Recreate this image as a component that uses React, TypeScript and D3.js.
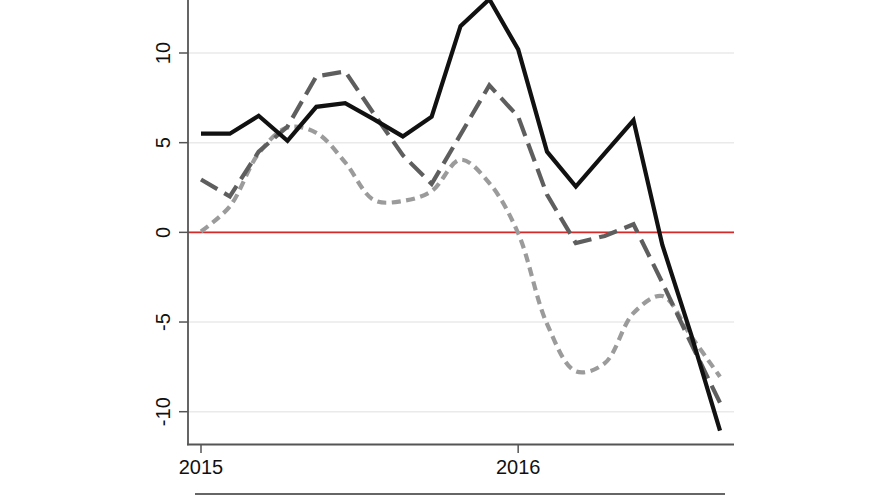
import React from "react";
import * as d3 from "d3";

const periods: number[] = Array.from({ length: 19 }, (_, i) => i);
const seriesA: number[] = [5.5, 5.5, 6.5, 5.1, 7.0, 7.2, 6.3, 5.35, 6.45, 11.5, 13.0, 10.2, 4.5, 2.55, 4.4, 6.25, -0.7, -5.7, -11.05];
const seriesB: number[] = [2.95, 2.0, 4.5, 5.9, 8.7, 8.97, 6.6, 4.3, 2.7, 5.45, 8.2, 6.45, 2.1, -0.6, -0.2, 0.45, -2.8, -6.2, -9.5];
const seriesC: number[] = [0.05, 1.45, 4.4, 5.85, 5.55, 3.9, 1.8, 1.75, 2.3, 4.05, 2.75, -0.05, -5.1, -7.75, -7.3, -4.5, -3.55, -5.8, -8.05];
const yTicks: number[] = [-10, -5, 0, 5, 10];
const xTickPos: number[] = [0, 11];
const xTickLabels: string[] = ["2015", "2016"];

const W = 880;
const H = 495;
const plotLeft = 188;
const plotRight = 734;
const axisY = 444.5;

export default function App() {
  const x = d3.scaleLinear().domain([0, 18]).range([201, 720]);
  const y = d3.scaleLinear().domain([-10, 10]).range([411.7, 53]);
  const line = d3
    .line<number>()
    .x((_, i) => x(periods[i]))
    .y((d) => y(d));
  const smooth = d3
    .line<number>()
    .x((_, i) => x(periods[i]))
    .y((d) => y(d))
    .curve(d3.curveCatmullRom.alpha(0.5));
  const font = "'Liberation Sans', Arial, Helvetica, sans-serif";
  return (
    <svg
      width={W}
      height={H}
      style={{ position: "absolute", left: 0, top: 0, background: "#fff" }}
    >
      <rect x={0} y={0} width={W} height={H} fill="#fff" />
      {yTicks.map((t) => (
        <line key={"g" + t} x1={plotLeft} x2={plotRight} y1={y(t)} y2={y(t)} stroke="#eaeaea" strokeWidth={1.5} />
      ))}
      <line x1={plotLeft} x2={plotRight} y1={y(0)} y2={y(0)} stroke="#d42a2a" strokeWidth={1.6} />
      {/* y axis */}
      <line x1={plotLeft} x2={plotLeft} y1={0} y2={axisY + 0.8} stroke="#555" strokeWidth={1.8} />
      {yTicks.map((t) => (
        <g key={"t" + t}>
          <line x1={plotLeft - 9} x2={plotLeft} y1={y(t)} y2={y(t)} stroke="#555" strokeWidth={1.5} />
          <text
            transform={`translate(169.5, ${y(t)}) rotate(-90)`}
            textAnchor="middle"
            fontFamily={font}
            fontSize={20}
            fill="#111"
          >
            {String(t)}
          </text>
        </g>
      ))}
      {/* x axis */}
      <line x1={plotLeft - 1} x2={plotRight} y1={axisY} y2={axisY} stroke="#555" strokeWidth={1.8} />
      {xTickPos.map((p, i) => (
        <g key={"x" + p}>
          <line x1={x(p)} x2={x(p)} y1={axisY} y2={axisY + 8.5} stroke="#555" strokeWidth={1.5} />
          <text x={x(p)} y={474.3} textAnchor="middle" fontFamily={font} fontSize={20} fill="#111">
            {xTickLabels[i]}
          </text>
        </g>
      ))}
      {/* series */}
      <path d={smooth(seriesC) || ""} fill="none" stroke="#9b9b9b" strokeWidth={4.2} strokeDasharray="9,5.5" />
      <path d={line(seriesB) || ""} fill="none" stroke="#5e5e5e" strokeWidth={4.2} strokeDasharray="19,8" />
      <path d={line(seriesA) || ""} fill="none" stroke="#111" strokeWidth={4.2} strokeLinejoin="miter" />
      {/* legend box top border (cut off) */}
      <line x1={195} x2={725} y1={494} y2={494} stroke="#666" strokeWidth={2.2} />
    </svg>
  );
}
